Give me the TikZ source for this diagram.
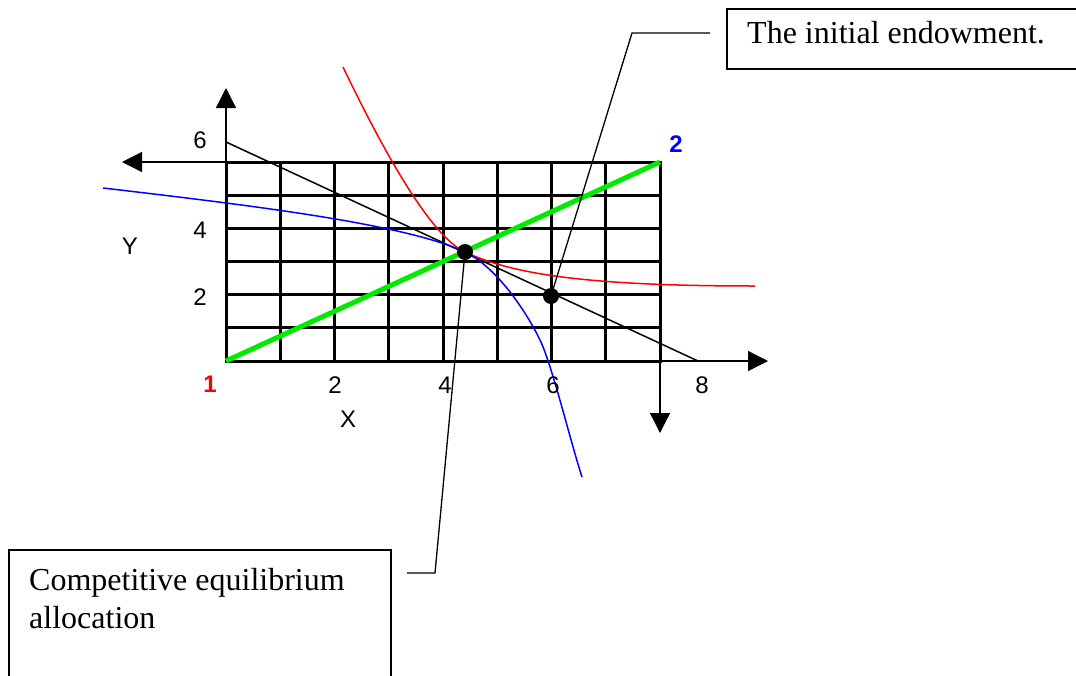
\documentclass[tikz,border=0pt]{standalone}
\usepackage{fontspec}
\setmainfont{Liberation Serif}
\setsansfont{Liberation Sans}
\usetikzlibrary{arrows.meta}
\definecolor{limegreen}{RGB}{0,235,0}
\begin{document}
\begin{tikzpicture}[x=1pt,y=-1pt,
  gridline/.style={line width=3pt,line cap=rect},
  axis/.style={line width=1.3pt,-{Triangle[length=20pt,width=20pt]}},
  lbl/.style={font=\sffamily\fontsize{24}{28}\selectfont,inner sep=0pt},
  dotnode/.style={circle,fill=black,inner sep=0pt,minimum size=16pt},
  leader/.style={line width=1.3pt},
  callout/.style={draw,line width=1.5pt},
  ctext/.style={font=\fontsize{32}{37}\selectfont,inner sep=0pt,anchor=base west},
  curve/.style={line width=1.5pt}
]
\useasboundingbox (0,0) rectangle (1076,675);
% grid
\foreach \i in {0,...,8} \draw[gridline] ({226+\i*54.25},162) -- ({226+\i*54.25},361);
\foreach \j in {0,...,6} \draw[gridline] (226,{162+\j*33.17}) -- (660,{162+\j*33.17});
% axes
\coordinate (o1) at (226,361);
\coordinate (o1top) at (226,162);
\coordinate (o2) at (660,162);
\coordinate (o2bot) at (660,361);
\coordinate (ytip) at (226,88);
\coordinate (x2tip) at (122,162);
\coordinate (xtip) at (768,361);
\coordinate (y2tip) at (660,433);
\draw[axis] (o1) -- (ytip);
\draw[axis] (o1top) -- (x2tip);
\draw[axis] (o2bot) -- (xtip);
\draw[axis] (o2) -- (y2tip);
% contract line
\draw[line width=5pt,color=limegreen] (o1) -- (o2);
% budget line
\coordinate (b1) at (226,142);
\coordinate (b2) at (698,361);
\draw[curve] (b1) -- (b2);
% indifference curves
\coordinate (tp) at (465,252);
\draw[curve,red] (343,67) .. controls (393,171) and (435,238) .. (tp)
  .. controls (510,273) and (580,286) .. (755,286);
\draw[curve,blue] (103,188) .. controls (253,205.6) and (405,224) .. (tp)
  .. controls (495,266) and (525,309) .. (540,340)
  .. controls (552,364.7) and (570,440) .. (582,477);
% points
\node[dotnode] (eq) at (tp) {};
\node[dotnode] (endow) at (551,296) {};
% axis labels
\node[lbl] (y6) at (200,140) {6};
\node[lbl] (y4) at (200,230) {4};
\node[lbl] (y2) at (200,297) {2};
\node[lbl] (ylab) at (130,246) {Y};
\node[lbl] (x2) at (335,385) {2};
\node[lbl] (x4) at (445,385) {4};
\node[lbl] (x6) at (553,385) {6};
\node[lbl] (x8) at (702,385) {8};
\node[lbl] (xlab) at (348,419) {X};
\node[lbl,font=\sffamily\bfseries\fontsize{24}{28}\selectfont,red] (one) at (210,384) {1};
\node[lbl,font=\sffamily\bfseries\fontsize{24}{28}\selectfont,blue] (two) at (676,144) {2};
% callouts
\begin{scope}
\clip (0,0) rectangle (1076,675);
\draw[callout] (727,9) rectangle (1090,69);
\draw[callout] (9,550) rectangle (391,690);
\end{scope}
\node[ctext] (endowtext) at (747,43) {The initial endowment.};
\node[ctext] (eqtext1) at (29,590) {Competitive equilibrium};
\node[ctext] (eqtext2) at (29,628) {allocation};
\coordinate (l1a) at (710,33);
\coordinate (l1b) at (632,33);
\draw[leader] (l1a) -- (l1b) -- (endow.center);
\coordinate (l2a) at (407,573);
\coordinate (l2b) at (435,573);
\draw[leader] (l2a) -- (l2b) -- (eq.center);
\end{tikzpicture}
\end{document}
